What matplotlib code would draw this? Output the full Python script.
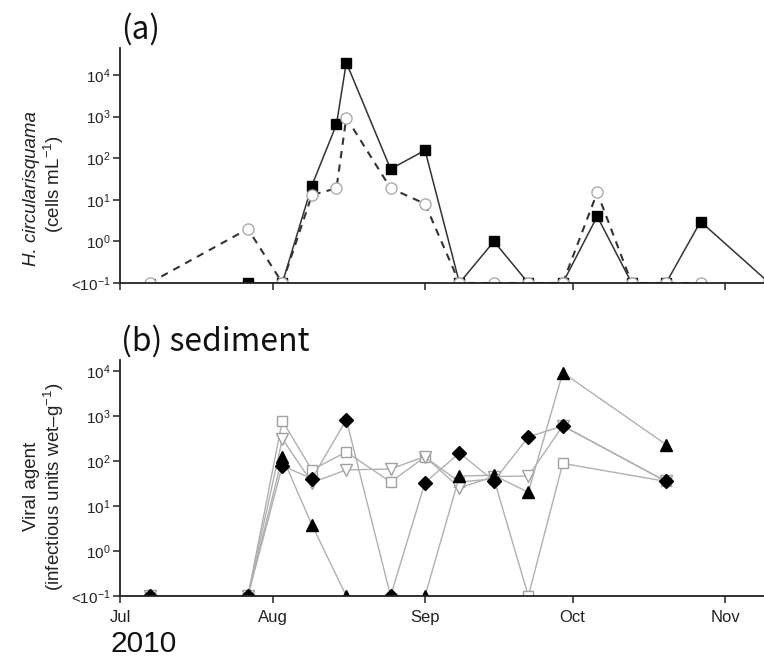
import matplotlib
matplotlib.use('Agg')
import matplotlib.pyplot as plt
import matplotlib.dates as mdates
from matplotlib.ticker import NullLocator, FixedLocator, FixedFormatter
from matplotlib.patches import Rectangle

plt.rcParams['font.family'] = ['Liberation Sans', 'DejaVu Sans']
plt.rcParams['mathtext.fontset'] = 'custom'
plt.rcParams['mathtext.rm'] = 'Liberation Sans'
plt.rcParams['mathtext.it'] = 'Liberation Sans:italic'
plt.rcParams['mathtext.bf'] = 'Liberation Sans:bold'

# ---------------- data ----------------
# Panel (a): H. circularisquama cell density (cells mL-1); 0.1 = below detection (<10^-1)
a_sq_dates = ['2010-07-27', '2010-08-03', '2010-08-09', '2010-08-14', '2010-08-16',
              '2010-08-25', '2010-09-01', '2010-09-08', '2010-09-15', '2010-09-22',
              '2010-09-29', '2010-10-06', '2010-10-13', '2010-10-20', '2010-10-27',
              '2010-11-10']
a_sq_vals = [0.1, 0.1, 22, 650, 20000, 55, 155, 0.1, 1.0, 0.1, 0.1, 4, 0.1, 0.1, 3, 0.1]

a_ci_dates = ['2010-07-07', '2010-07-27', '2010-08-03', '2010-08-09', '2010-08-14',
              '2010-08-16', '2010-08-25', '2010-09-01', '2010-09-08', '2010-09-15',
              '2010-09-22', '2010-09-29', '2010-10-06', '2010-10-13', '2010-10-20',
              '2010-10-27']
a_ci_vals = [0.1, 2.0, 0.1, 13, 19, 950, 19, 8, 0.1, 0.1, 0.1, 0.1, 15, 0.1, 0.1, 0.1]

# Panel (b): viral agent in sediment (infectious units wet-g-1)
b_dates = ['2010-07-07', '2010-07-27', '2010-08-03', '2010-08-09', '2010-08-16',
           '2010-08-25', '2010-09-01', '2010-09-08', '2010-09-15', '2010-09-22',
           '2010-09-29', '2010-10-20']
b_open_square = [0.1, 0.1, 780, 63, 158, 34, 122, 34, 40, 0.1, 88, 35]
b_open_tri_down = [0.1, 0.1, 310, 33, 63, 66, 125, 25, 45, 46, 600, 35]
b_black_tri = [0.1, 0.1, 122, 3.8, 0.1, 0.1, 0.1, 46, 48, 20, 9100, 230]
b_black_diamond = [0.1, 0.1, 78, 40, 820, 0.1, 33, 150, 36, 340, 600, 35]

month_ticks = ['2010-07-01', '2010-08-01', '2010-09-01', '2010-10-01', '2010-11-01']
month_labels = ['Jul', 'Aug', 'Sep', 'Oct', 'Nov']
y_ticks = [0.1, 1, 10, 100, 1000, 10000]
y_labels = [r'<$10^{-1}$', r'$10^{0}$', r'$10^{1}$', r'$10^{2}$', r'$10^{3}$', r'$10^{4}$']

# ---------------- helpers ----------------
def d(lst):
    return mdates.datestr2num(lst)

W, H = 764, 659
fig = plt.figure(figsize=(W / 100, H / 100), dpi=100)

xmin = mdates.datestr2num('2010-07-01')
xmax = xmin + 130.9

def style(ax, ytop, show_xlabels):
    ax.set_yscale('log')
    ax.set_xlim(xmin, xmax)
    ax.set_ylim(0.1, ytop)
    for s in ['top', 'right']:
        ax.spines[s].set_visible(False)
    for s in ['left', 'bottom']:
        ax.spines[s].set_linewidth(1.3)
        ax.spines[s].set_color('#222222')
        ax.spines[s].set_zorder(12)
    ax.xaxis.set_zorder(12)
    ax.yaxis.set_zorder(12)
    ax.yaxis.set_major_locator(FixedLocator(y_ticks))
    ax.yaxis.set_major_formatter(FixedFormatter(y_labels))
    ax.yaxis.set_minor_locator(NullLocator())
    ax.set_xticks(d(month_ticks))
    if show_xlabels:
        ax.set_xticklabels(month_labels)
    else:
        ax.set_xticklabels([])
    ax.tick_params(axis='both', direction='out', length=5, width=1.1, color='#222222',
                   labelcolor='#222222')
    ax.tick_params(axis='x', pad=5, labelsize=12)
    ax.tick_params(axis='y', pad=2, labelsize=11)
    ax.patch.set_visible(False)
    # markers at the "<10^-1" level are cut at the axis line, as in the original
    ax.add_patch(Rectangle((0.0, -0.045), 1.0, 0.045, transform=ax.transAxes,
                           facecolor='white', edgecolor='none', clip_on=False, zorder=10))

# ---------------- panel (a) ----------------
axa = fig.add_axes([120 / W, 1 - 283 / H, (W - 120) / W, (283 - 48) / H])
axa.plot(d(a_sq_dates), a_sq_vals, '-', color='#333333', lw=1.1,
         marker='s', ms=7, mfc='black', mec='black', zorder=3)
axa.plot(d(a_ci_dates), a_ci_vals, '--', color='#333333', lw=1.5, dashes=(3.5, 3),
         marker='o', ms=8, mfc='white', mec='#aaaaaa', mew=1.0, zorder=4)
style(axa, 10 ** 4.65, False)

# ---------------- panel (b) ----------------
axb = fig.add_axes([120 / W, 1 - 596 / H, (W - 120) / W, (596 - 360) / H])
lc = '#b0b0b0'
axb.plot(d(b_dates), b_open_square, '-', color=lc, lw=1.0,
         marker='s', ms=7.5, mfc='white', mec='#a0a0a0', mew=1.0, zorder=3)
axb.plot(d(b_dates), b_open_tri_down, '-', color=lc, lw=1.0,
         marker='v', ms=8.5, mfc='white', mec='#a0a0a0', mew=1.0, zorder=3)
axb.plot(d(b_dates), b_black_tri, '-', color=lc, lw=1.0,
         marker='^', ms=8.5, mfc='black', mec='black', zorder=4)
axb.plot(d(b_dates), b_black_diamond, '-', color=lc, lw=1.0,
         marker='D', ms=7.5, mfc='black', mec='black', zorder=5)
style(axb, 10 ** 4.24, True)

# ---------------- text ----------------
title_font = ['Noto Sans CJK JP', 'DejaVu Sans']
fig.text(121 / W, 1 - 29 / H, '(a)', fontsize=22.5, va='center', ha='left',
         color='#111111', family=title_font)
fig.text(121 / W, 1 - 341 / H, '(b) sediment', fontsize=23, va='center', ha='left',
         color='#111111', family=title_font)
fig.text(111 / W, 1 - 652 / H, '2010', fontsize=21.5, va='baseline', ha='left',
         color='#111111')

lab_kw = dict(rotation=90, fontsize=13.5, va='center', ha='center', color='#222222')
fig.text(32 / W, 1 - 189 / H, 'H. circularisquama', style='italic', **lab_kw)
fig.text(54 / W, 1 - 184 / H, r'(cells mL$^{-1}$)', **lab_kw)
fig.text(32 / W, 1 - 486 / H, 'Viral agent', **lab_kw)
fig.text(54 / W, 1 - 487 / H, '(infectious units wet–g$^{-1}$)', **lab_kw)

fig.savefig('out.png', dpi=100)
